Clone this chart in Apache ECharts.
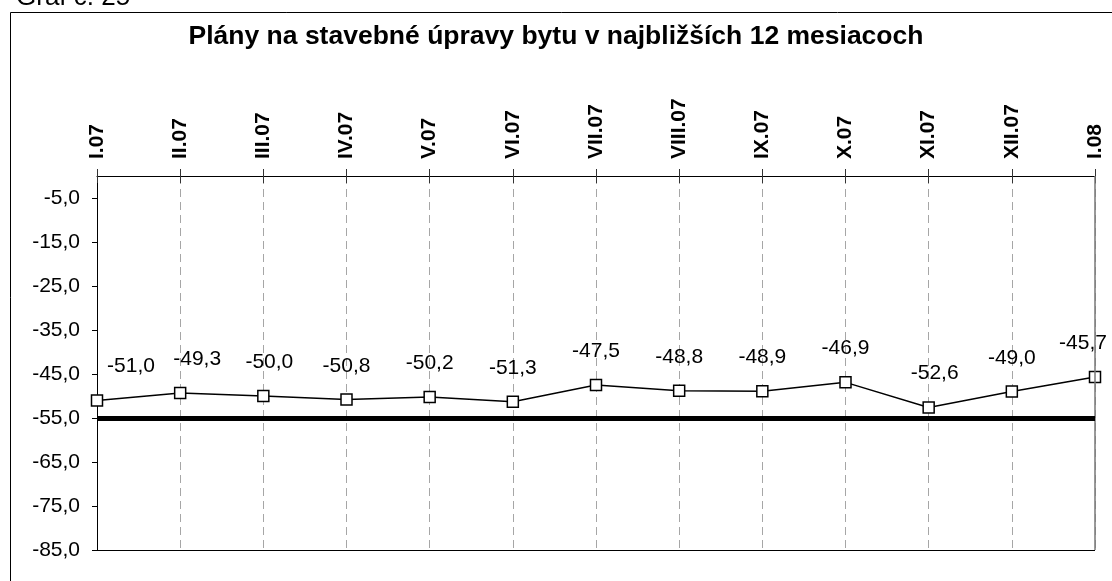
<!DOCTYPE html>
<html>
<head>
<meta charset="utf-8">
<script src="https://cdn.jsdelivr.net/npm/echarts@6/dist/echarts.min.js"></script>
<style>
  html, body { margin: 0; padding: 0; background: #fff; }
  #chart { width: 1112px; height: 581px; }
</style>
</head>
<body>
<div id="chart"></div>
<script>
const months = ['I.07', 'II.07', 'III.07', 'IV.07', 'V.07', 'VI.07', 'VII.07', 'VIII.07', 'IX.07', 'X.07', 'XI.07', 'XII.07', 'I.08']
const values = [-51.0, -49.3, -50.0, -50.8, -50.2, -51.3, -47.5, -48.8, -48.9, -46.9, -52.6, -49.0, -45.7]
const refLine = -55
const yMin = -85
const yMax = 0

const font = '"Liberation Sans", Arial, sans-serif'
const fmt = v => v.toFixed(1).replace('.', ',')

// some labels were nudged sideways in the original
const labelNudge = { 0: 34, 1: 17, 2: 6, 10: 6, 12: -12 }
const seriesData = values.map((v, i) => {
  const item = { value: v }
  if (labelNudge[i]) item.label = { offset: [labelNudge[i], 0] }
  return item
})

const chart = echarts.init(document.getElementById('chart'))
chart.setOption({
  animation: false,
  textStyle: { fontFamily: font },
  graphic: [
    {
      type: 'rect', left: 8, top: 10,
      shape: { width: 1300, height: 800 },
      style: { fill: 'none', stroke: '#000', lineWidth: 1 }
    },
    {
      type: 'text', x: 16, y: -15,
      style: { text: 'Graf č. 25', font: '26px ' + font, fill: '#000' }
    }
  ],
  title: {
    text: 'Plány na stavebné úpravy bytu v najbližších 12 mesiacoch',
    left: 'center',
    top: 18,
    textStyle: { fontFamily: font, fontSize: 26.5, fontWeight: 'bold', color: '#000' }
  },
  grid: { left: 97, right: 17, top: 176, bottom: 31 },
  xAxis: [{
    type: 'category',
    position: 'top',
    data: months,
    boundaryGap: false,
    axisLine: { lineStyle: { color: '#000', width: 1 } },
    axisTick: { alignWithLabel: true, length: 7, lineStyle: { color: '#333' } },
    axisLabel: {
      rotate: 90,
      margin: 17,
      color: '#000',
      fontFamily: font,
      fontSize: 21,
      fontWeight: 'bold',
      interval: 0
    },
    splitLine: { show: true, lineStyle: { color: '#a6a6a6', type: [8, 5], width: 1 } }
  }, {
    // inner half of the crossing ticks
    type: 'category',
    position: 'top',
    data: months,
    boundaryGap: false,
    axisLine: { show: false },
    axisTick: { inside: true, length: 7, lineStyle: { color: '#333' } },
    axisLabel: { show: false },
    splitLine: { show: false }
  }],
  yAxis: {
    type: 'value',
    min: yMin,
    max: yMax,
    interval: 10,
    axisLine: { show: true, lineStyle: { color: '#000' } },
    axisTick: { show: true, length: 5, lineStyle: { color: '#000' } },
    axisLabel: {
      showMaxLabel: false,
      margin: 17,
      color: '#000',
      fontFamily: font,
      fontSize: 21,
      formatter: v => fmt(v)
    },
    splitLine: { show: false }
  },
  series: [{
    type: 'line',
    data: seriesData,
    symbol: 'rect',
    symbolSize: 11,
    lineStyle: { color: '#000', width: 1.5 },
    itemStyle: { color: '#fff', borderColor: '#000', borderWidth: 1.5 },
    label: {
      show: true,
      position: 'top',
      distance: 17,
      color: '#000',
      fontFamily: font,
      fontSize: 21,
      formatter: p => fmt(p.value)
    },
    markLine: {
      silent: true,
      symbol: 'none',
      label: { show: false },
      data: [
        { xAxis: months[months.length - 1], lineStyle: { color: '#777', width: 1.5, type: 'solid' } },
        { yAxis: refLine, lineStyle: { color: '#000', width: 5, type: 'solid' } },
        { yAxis: yMin, lineStyle: { color: '#000', width: 1, type: 'solid' } }
      ]
    }
  }]
})
</script>
</body>
</html>
